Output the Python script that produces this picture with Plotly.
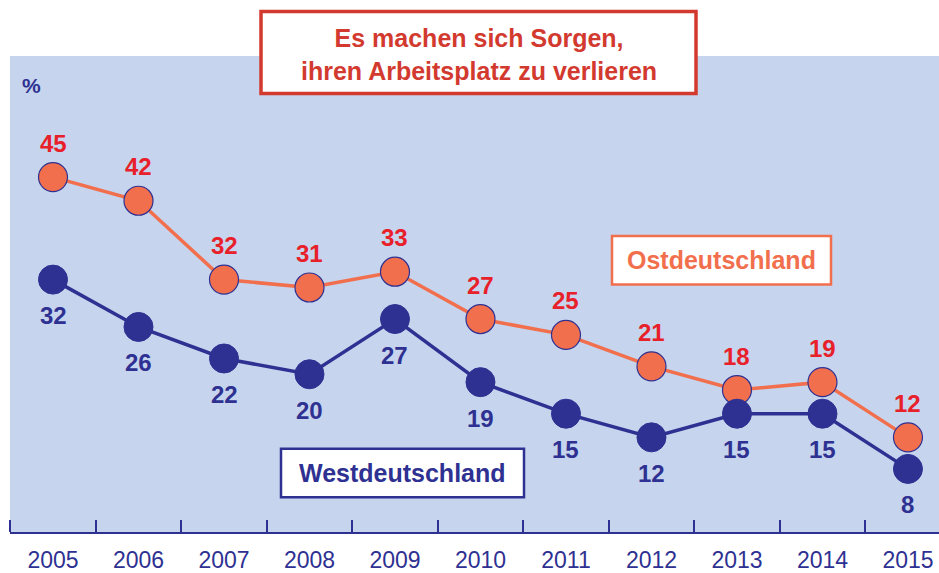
import plotly.graph_objects as go

years = [2005, 2006, 2007, 2008, 2009, 2010, 2011, 2012, 2013, 2014, 2015]
ost = [45, 42, 32, 31, 33, 27, 25, 21, 18, 19, 12]
west = [32, 26, 22, 20, 27, 19, 15, 12, 15, 15, 8]

title_lines = ['Es machen sich Sorgen,', 'ihren Arbeitsplatz zu verlieren']
ost_name = 'Ostdeutschland'
west_name = 'Westdeutschland'

navy = '#2e3192'
orange = '#f26f4d'
red = '#e8202a'
title_red = '#d33a2f'
font = 'Liberation Sans'

# plot area in pixels: x 10..939, y 56..537
W, H = 939, 573
L, T, B = 10, 56, 537


def px(x):
    return (x - L) / (W - L)


def py(y):
    return (B - y) / (B - T)


fig = go.Figure()

fig.add_trace(go.Scatter(x=years, y=ost, mode='lines+markers', name=ost_name,
                         line=dict(color=orange, width=3.5),
                         marker=dict(size=29, color=orange, line=dict(color=navy, width=1.2))))
fig.add_trace(go.Scatter(x=years, y=west, mode='lines+markers', name=west_name,
                         line=dict(color=navy, width=3.5),
                         marker=dict(size=29, color=navy, line=dict(color=navy, width=1))))

for x, v in zip(years, ost):
    fig.add_annotation(x=x, y=v, text=str(v), showarrow=False, yshift=34,
                       font=dict(family=font, size=24, color=red, weight='bold'))
for x, v in zip(years, west):
    fig.add_annotation(x=x, y=v, text=str(v), showarrow=False, yshift=-36,
                       font=dict(family=font, size=24, color=navy, weight='bold'))

# boxes: title, Ost, West
fig.add_shape(type='rect', xref='paper', yref='paper', x0=px(261), x1=px(696), y0=py(94), y1=py(11),
              line=dict(color=title_red, width=3.5), fillcolor='white', layer='above')
fig.add_shape(type='rect', xref='paper', yref='paper', x0=px(612), x1=px(831), y0=py(287), y1=py(238),
              line=dict(color=orange, width=2.5), fillcolor='white', layer='above')
fig.add_shape(type='rect', xref='paper', yref='paper', x0=px(281), x1=px(524), y0=py(502), y1=py(453),
              line=dict(color=navy, width=2.5), fillcolor='white', layer='above')

center = dict(showarrow=False, xanchor='center', yanchor='middle')
fig.add_annotation(xref='paper', yref='paper', x=px(479), y=py(54), text='<br>'.join(title_lines),
                   align='center', **center,
                   font=dict(family=font, size=25, color=title_red, weight='bold'))
fig.add_annotation(xref='paper', yref='paper', x=px(721), y=py(262), text=ost_name, **center,
                   font=dict(family=font, size=25, color=orange, weight='bold'))
fig.add_annotation(xref='paper', yref='paper', x=px(402), y=py(477), text=west_name, **center,
                   font=dict(family=font, size=25, color=navy, weight='bold'))
fig.add_annotation(xref='paper', yref='paper', x=px(31), y=py(86), text='%', **center,
                   font=dict(family=font, size=21, color=navy, weight='bold'))

fig.update_layout(
    width=W, height=H,
    margin=dict(l=L, r=0, t=T, b=H - B),
    paper_bgcolor='white', plot_bgcolor='#c6d4ed',
    showlegend=False,
    font=dict(family=font, color=navy),
)
fig.update_xaxes(range=[2004.497, 2015.363], tickvals=years, ticks='', ticklen=0,
                 tickfont=dict(size=23, color=navy), ticklabelstandoff=7,
                 showgrid=False, zeroline=False,
                 showline=True, linecolor=navy, linewidth=1.5,
                 minor=dict(tickvals=[y + 0.5 for y in years[:-1]] + [2004.5], ticks='inside',
                            ticklen=12, tickcolor=navy, tickwidth=1.5, showgrid=False))
fig.update_yaxes(range=[0, 60.35], showticklabels=False, showgrid=False, zeroline=False,
                 showline=False, ticks='')

fig.write_html('out.html', config={'displayModeBar': False},
               post_script="document.body.style.margin='0';")
